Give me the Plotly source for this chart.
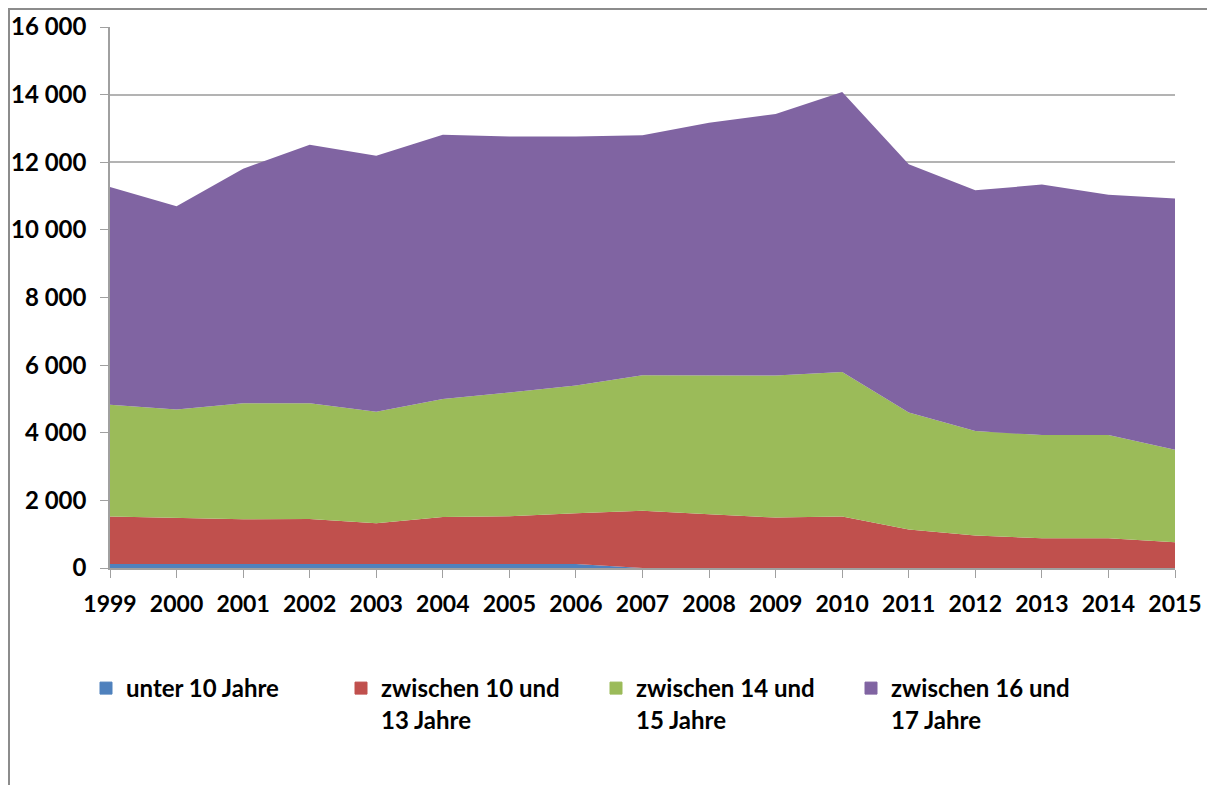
import plotly.graph_objects as go

# data (stacked values per age group)
years = list(range(1999, 2016))

unter_10 = [120, 120, 120, 120, 120, 120, 120, 120, 0, 0, 0, 0, 0, 0, 0, 0, 0]
zw_10_13 = [1400, 1360, 1320, 1330, 1200, 1390, 1410, 1500, 1690, 1590, 1490, 1520, 1140, 960, 880, 880, 760]
zw_14_15 = [3310, 3210, 3430, 3420, 3300, 3490, 3660, 3780, 4010, 4110, 4200, 4280, 3460, 3090, 3050, 3050, 2740]
zw_16_17 = [6440, 6010, 6940, 7650, 7570, 7810, 7570, 7360, 7100, 7470, 7740, 8280, 7340, 7120, 7410, 7110, 7430]

series_names = ["unter 10 Jahre", "zwischen 10 und<br>13 Jahre",
                "zwischen 14 und<br>15 Jahre", "zwischen 16 und<br>17 Jahre"]
series_values = [unter_10, zw_10_13, zw_14_15, zw_16_17]
colors = ["#4F81BD", "#C0504D", "#9BBB59", "#8064A2"]

font_family = "Lato, 'Open Sans', sans-serif"

# the page body adds an 8px offset, so the plot box is placed with that in mind
plot_l, plot_r, plot_t, plot_b = 110, 1175, 27, 568
off = 8

fig = go.Figure()

for name, vals, color in zip(series_names, series_values, colors):
    fig.add_trace(go.Scatter(
        x=years,
        y=vals,
        mode="lines",
        stackgroup="one",
        line={"width": 0, "color": color},
        fillcolor=color,
        showlegend=False,
        hoverinfo="x+y+name",
        name=name.replace("<br>", " ")
    ))

# legend-only entries so the key shows small squares like the original
for name, color in zip(series_names, colors):
    fig.add_trace(go.Bar(
        x=[None],
        y=[None],
        name=name,
        marker={"color": color, "line": {"color": color, "width": 1}},
        showlegend=True
    ))

pw = plot_r - plot_l
ph = plot_b - plot_t

# outer frame of the chart (only top and left edges are in view)
fig.add_shape(
    type="rect", xref="paper", yref="paper",
    x0=(9 - plot_l) / pw, x1=1.2, y0=-0.6, y1=(plot_b - 9) / ph,
    line={"color": "#8c8c8c", "width": 2}, fillcolor="rgba(0,0,0,0)"
)

fig.update_layout(
    width=1215,
    height=785,
    margin={"l": plot_l - off, "r": 1215 + off - plot_r, "t": plot_t - off,
            "b": 785 + off - plot_b, "autoexpand": False},
    paper_bgcolor="white",
    plot_bgcolor="white",
    separators=", ",
    font={"family": font_family, "color": "black", "size": 20},
    xaxis={
        "range": [1999, 2015],
        "tickmode": "array",
        "tickvals": years,
        "ticktext": [str(y) for y in years],
        "ticks": "outside",
        "ticklen": 8,
        "tickcolor": "#a0a0a0",
        "showline": True,
        "linecolor": "#a0a0a0",
        "linewidth": 1.5,
        "showgrid": False,
        "zeroline": False,
        "automargin": False,
        "tickfont": {"family": font_family, "size": 23, "weight": "bold"},
        "ticklabelstandoff": 7,
    },
    yaxis={
        "range": [0, 16000],
        "dtick": 2000,
        "tickformat": ",d",
        "ticks": "outside",
        "ticklen": 8,
        "tickcolor": "#a0a0a0",
        "showline": True,
        "linecolor": "#a0a0a0",
        "linewidth": 1.5,
        "showgrid": True,
        "gridcolor": "#b3b3b3",
        "gridwidth": 1.5,
        "zeroline": False,
        "automargin": False,
        "tickfont": {"family": font_family, "size": 24, "weight": "bold"},
        "ticklabelstandoff": 9,
    },
    legend={
        "orientation": "h",
        "x": (86 - plot_l) / pw,
        "xanchor": "left",
        "y": (plot_b - 666) / ph,
        "yanchor": "top",
        "valign": "top",
        "entrywidth": 210,
        "entrywidthmode": "pixels",
        "font": {"family": font_family, "size": 24, "weight": "bold"},
        "traceorder": "normal",
    },
    showlegend=True,
)

fig.write_html("out.html")
